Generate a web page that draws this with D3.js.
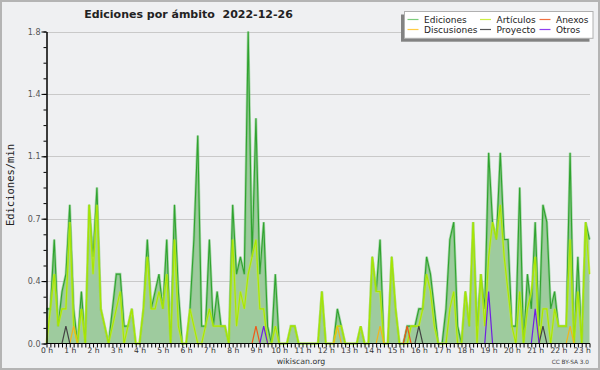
<!DOCTYPE html>
<html>
<head>
<meta charset="utf-8">
<script src="https://cdn.jsdelivr.net/npm/d3@7"></script>
<style>
  html, body { margin: 0; padding: 0; background: #eff0f2; }
  svg { display: block; }
</style>
</head>
<body>
<svg id="chart" width="600" height="370"></svg>
<script>
// ---- Data (edits per minute, 10-minute bins, 2022-12-26) ----
const hourLabels = ["0 h","1 h","2 h","3 h","4 h","5 h","6 h","7 h","8 h","9 h","10 h","11 h",
                    "12 h","13 h","14 h","15 h","16 h","17 h","18 h","19 h","20 h","21 h","22 h","23 h"];
const yTickValues = [0, 0.36, 0.72, 1.08, 1.44, 1.8];
const yTickLabels = ["0.0", "0.4", "0.7", "1.1", "1.4", "1.8"];

const ediciones = [
  0.2,0.2,0.6,0.1,0.3,0.4,0.8,0.2,0.0,0.3, 0.0,0.8,0.5,0.9,0.2,0.1,0.0,0.2,0.4,0.4,
  0.1,0.1,0.2,0.0,0.0,0.2,0.6,0.2,0.3,0.4, 0.2,0.6,0.0,0.8,0.3,0.0,0.0,0.2,0.6,1.2,
  0.1,0.1,0.6,0.1,0.3,0.1,0.1,0.0,0.8,0.4, 0.5,0.4,1.8,0.5,1.3,0.4,0.7,0.1,0.0,0.4,
  0.0,0.0,0.0,0.1,0.1,0.0,0.0,0.0,0.0,0.0, 0.0,0.3,0.0,0.0,0.0,0.2,0.1,0.0,0.0,0.0,
  0.0,0.1,0.0,0.0,0.5,0.3,0.6,0.0,0.0,0.5, 0.2,0.0,0.0,0.1,0.1,0.1,0.2,0.2,0.5,0.4,
  0.2,0.0,0.0,0.2,0.6,0.7,0.1,0.0,0.3,0.1, 0.7,0.1,0.4,0.2,1.1,0.7,0.6,1.1,0.6,0.6,
  0.1,0.1,0.9,0.0,0.4,0.2,0.7,0.1,0.8,0.7, 0.2,0.3,0.1,0.1,0.1,1.1,0.0,0.5,0.0,0.7,
  0.6
];
const articulos = [
  0.0,0.2,0.4,0.1,0.2,0.2,0.7,0.1,0.0,0.2, 0.0,0.8,0.4,0.8,0.2,0.1,0.0,0.1,0.2,0.3,
  0.0,0.1,0.2,0.0,0.0,0.2,0.5,0.2,0.2,0.3, 0.2,0.4,0.0,0.6,0.1,0.0,0.0,0.2,0.1,0.0,
  0.0,0.1,0.2,0.1,0.1,0.1,0.1,0.0,0.6,0.1, 0.3,0.2,0.4,0.5,0.6,0.2,0.2,0.0,0.0,0.1,
  0.0,0.0,0.0,0.1,0.1,0.0,0.0,0.0,0.0,0.0, 0.0,0.3,0.0,0.0,0.0,0.1,0.1,0.0,0.0,0.0,
  0.0,0.1,0.0,0.0,0.5,0.3,0.3,0.0,0.0,0.5, 0.2,0.0,0.0,0.0,0.1,0.1,0.1,0.2,0.4,0.3,
  0.1,0.0,0.0,0.0,0.2,0.3,0.0,0.0,0.3,0.1, 0.7,0.0,0.4,0.1,0.5,0.7,0.6,0.8,0.5,0.3,
  0.1,0.0,0.3,0.0,0.2,0.3,0.5,0.0,0.2,0.2, 0.0,0.2,0.1,0.1,0.1,0.6,0.0,0.3,0.0,0.7,
  0.4
];
// sparse series: [bin index, value], expanded to full arrays below
const anexosPeaks      = [[54, 0.1], [93, 0.1]];
const discusionesPeaks = [[7, 0.1], [75, 0.1], [86, 0.1], [135, 0.1]];
const proyectoPeaks    = [[5, 0.1], [96, 0.1], [128, 0.1]];
const otrosPeaks       = [[56, 0.1], [114, 0.3], [126, 0.2]];

const N = ediciones.length;
function expand(peaks) {
  const a = new Array(N).fill(0);
  peaks.forEach(([i, v]) => { a[i] = v; });
  return a;
}
const anexos = expand(anexosPeaks);
const discusiones = expand(discusionesPeaks);
const proyecto = expand(proyectoPeaks);
const otros = expand(otrosPeaks);

// ---- Layout ----
const svg = d3.select("#chart");
const pLeft = 46.5, pRight = 589.5, pTop = 31.5, pBottom = 343.5;
const x = d3.scaleLinear().domain([0, N - 1]).range([pLeft, pRight]);
const y = d3.scaleLinear().domain([0, 1.8]).range([pBottom, pTop]);

svg.append("rect").attr("x", 0).attr("y", 0).attr("width", 600).attr("height", 370).attr("fill", "#eff0f2");
svg.append("rect").attr("x", 1).attr("y", 1).attr("width", 598).attr("height", 368)
   .attr("fill", "none").attr("stroke", "#b4b4b4").attr("stroke-width", 2);

// gridlines
svg.append("g").selectAll("line").data(yTickValues.filter(d => d > 0)).join("line")
  .attr("x1", pLeft).attr("x2", 590).attr("y1", d => Math.round(y(d)) + 0.5).attr("y2", d => Math.round(y(d)) + 0.5)
  .attr("stroke", "#c9c9c9").attr("stroke-width", 1);

// series
const idx = d3.range(N);
const area = d3.area().x(i => x(i)).y0(y(0)).y1(i => y(ediciones[i]));
const lineOf = arr => d3.line().x(i => x(i)).y(i => y(arr[i]));

svg.append("path").attr("d", area(idx)).attr("fill", "#9ecb9e");
svg.append("path").attr("d", lineOf(ediciones)(idx)).attr("fill", "none")
   .attr("stroke", "#6cc06c").attr("stroke-width", 2.6).attr("stroke-opacity", 0.55);
svg.append("path").attr("d", lineOf(ediciones)(idx)).attr("fill", "none")
   .attr("stroke", "#2fa32f").attr("stroke-width", 1.1);

svg.append("path").attr("d", lineOf(articulos)(idx)).attr("fill", "none")
   .attr("stroke", "#c4f03a").attr("stroke-width", 2.4).attr("stroke-opacity", 0.6);
svg.append("path").attr("d", lineOf(articulos)(idx)).attr("fill", "none")
   .attr("stroke", "#a8e600").attr("stroke-width", 1.1);

const small = [
  {data: discusiones, color: "#f2b61a"},
  {data: anexos, color: "#ee5a1a"},
  {data: proyecto, color: "#444444"},
  {data: otros, color: "#7020e0"}
];
small.forEach(s => {
  svg.append("path").attr("d", lineOf(s.data)(idx)).attr("fill", "none")
     .attr("stroke", s.color).attr("stroke-width", 1.2);
});

// axes
const font = "DejaVu Sans, sans-serif";
const yAxis = d3.axisLeft(y).tickValues(yTickValues).tickFormat((d, i) => yTickLabels[i]).tickSize(5).tickSizeOuter(0).tickPadding(1);
const yAxisMinor = d3.axisLeft(y).tickValues(d3.range(0, 21).map(k => k * 0.09)).tickFormat("").tickSize(3).tickSizeOuter(0);
const gYm = svg.append("g").attr("transform", `translate(${pLeft},0)`).call(yAxisMinor);
const gY = svg.append("g").attr("transform", `translate(${pLeft},0)`).call(yAxis);
[gY, gYm].forEach(g => {
  g.selectAll("path.domain").attr("stroke", "#000");
  g.selectAll("line").attr("stroke", "#000");
});
gY.selectAll("text").attr("font-family", font).attr("font-size", 8).attr("fill", "#555");

const xAxisMinor = d3.axisBottom(x).tickValues(idx).tickFormat("").tickSize(4).tickSizeOuter(0);
const gX = svg.append("g").attr("transform", `translate(0,${pBottom})`).call(xAxisMinor);
gX.selectAll("path.domain").attr("stroke", "#000").attr("d", `M${pLeft},0H590`);
gX.selectAll("line").attr("stroke", "#000");

const xAxisHours = d3.axisBottom(x).tickValues(hourLabels.map((_, h) => h * 6)).tickFormat((d, i) => hourLabels[i]).tickSize(0).tickPadding(4);
const gXh = svg.append("g").attr("transform", `translate(0,${pBottom})`).call(xAxisHours);
gXh.select("path.domain").remove();
gXh.selectAll("text").attr("font-family", font).attr("font-size", 7.6).attr("fill", "#333");

// texts
svg.append("text").attr("x", 188.5).attr("y", 17.5).attr("text-anchor", "middle")
   .attr("font-family", font).attr("font-weight", "bold").attr("font-size", 11).attr("fill", "#222")
   .style("white-space", "pre").text("Ediciones por ámbito  2022-12-26");

svg.append("text").attr("transform", "translate(13.5,185) rotate(-90)").attr("text-anchor", "middle")
   .attr("font-family", "DejaVu Sans Mono, monospace").attr("font-size", 10.5).attr("fill", "#222")
   .text("Ediciones/min");

svg.append("text").attr("x", 301).attr("y", 363.5).attr("text-anchor", "middle")
   .attr("font-family", font).attr("font-size", 7.8).attr("fill", "#333").text("wikiscan.org");
svg.append("text").attr("x", 589).attr("y", 364).attr("text-anchor", "end")
   .attr("font-family", font).attr("font-size", 5.8).attr("fill", "#444").text("CC BY-SA 3.0");

// legend
const legendItems = [
  {name: "Ediciones",   color: "#7ccc7c", col: 0, row: 0},
  {name: "Artículos",   color: "#ccee44", col: 1, row: 0},
  {name: "Anexos",      color: "#f07040", col: 2, row: 0},
  {name: "Discusiones", color: "#ffcc44", col: 0, row: 1},
  {name: "Proyecto",    color: "#555555", col: 1, row: 1},
  {name: "Otros",       color: "#9040f0", col: 2, row: 1}
];
const colX = [407.5, 480, 539.5];
const rowY = [19.5, 29.5];
const lg = svg.append("g");
lg.append("rect").attr("x", 401).attr("y", 14.5).attr("width", 188.5).attr("height", 27.2).attr("fill", "#828282");
lg.append("rect").attr("x", 404.5).attr("y", 11.5).attr("width", 188.5).attr("height", 26.8)
  .attr("fill", "#ffffff").attr("stroke", "#b0b0b0").attr("stroke-width", 1);
legendItems.forEach(it => {
  const lx = colX[it.col], ly = rowY[it.row];
  lg.append("line").attr("x1", lx).attr("x2", lx + 11).attr("y1", ly).attr("y2", ly)
    .attr("stroke", it.color).attr("stroke-width", 1.2);
  lg.append("text").attr("x", lx + 16.5).attr("y", ly + 3.2)
    .attr("font-family", font).attr("font-size", 9).attr("fill", "#222").text(it.name);
});
</script>
</body>
</html>
